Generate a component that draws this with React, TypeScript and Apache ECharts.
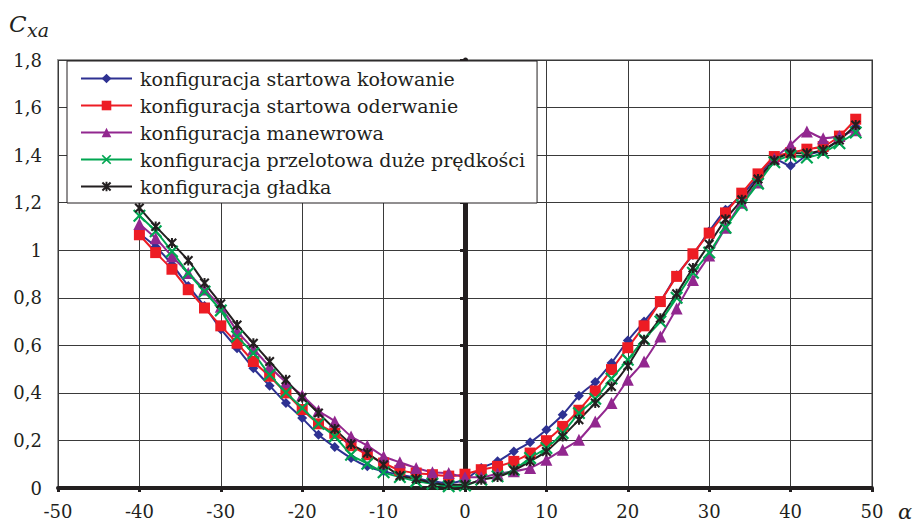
import React, { useEffect, useRef } from "react";
import * as echarts from "echarts";

const alpha = [-40, -38, -36, -34, -32, -30, -28, -26, -24, -22, -20, -18, -16, -14, -12, -10, -8, -6, -4, -2, 0, 2, 4, 6, 8, 10, 12, 14, 16, 18, 20, 22, 24, 26, 28, 30, 32, 34, 36, 38, 40, 42, 44, 46, 48];

const seriesNames = [
  "konfiguracja startowa kołowanie",
  "konfiguracja startowa oderwanie",
  "konfiguracja manewrowa",
  "konfiguracja przelotowa duże prędkości",
  "konfiguracja gładka",
];

const kolowanie = [1.07, 1.015, 0.94, 0.85, 0.765, 0.668, 0.588, 0.504, 0.43, 0.357, 0.294, 0.224, 0.172, 0.126, 0.091, 0.07, 0.056, 0.042, 0.028, 0.02, 0.035, 0.084, 0.112, 0.154, 0.192, 0.245, 0.308, 0.388, 0.446, 0.526, 0.62, 0.7, 0.784, 0.895, 0.98, 1.08, 1.17, 1.23, 1.31, 1.385, 1.355, 1.4, 1.42, 1.465, 1.52];
const oderwanie = [1.065, 0.99, 0.92, 0.834, 0.757, 0.682, 0.609, 0.532, 0.47, 0.4, 0.33, 0.27, 0.23, 0.178, 0.14, 0.105, 0.074, 0.063, 0.056, 0.05, 0.058, 0.077, 0.091, 0.112, 0.147, 0.199, 0.259, 0.327, 0.408, 0.498, 0.59, 0.682, 0.784, 0.89, 0.985, 1.072, 1.157, 1.24, 1.321, 1.394, 1.41, 1.425, 1.436, 1.48, 1.551];
const manewrowa = [1.11, 1.05, 0.975, 0.904, 0.835, 0.762, 0.66, 0.585, 0.51, 0.445, 0.39, 0.325, 0.28, 0.217, 0.178, 0.133, 0.108, 0.084, 0.066, 0.063, 0.045, 0.045, 0.06, 0.07, 0.084, 0.119, 0.161, 0.203, 0.28, 0.357, 0.455, 0.532, 0.637, 0.755, 0.875, 0.978, 1.095, 1.2, 1.285, 1.385, 1.443, 1.499, 1.471, 1.48, 1.505];
const przelotowa = [1.145, 1.08, 0.995, 0.904, 0.826, 0.747, 0.637, 0.567, 0.476, 0.402, 0.336, 0.27, 0.217, 0.14, 0.102, 0.066, 0.046, 0.028, 0.018, 0.007, 0.01, 0.035, 0.049, 0.077, 0.126, 0.168, 0.231, 0.315, 0.375, 0.46, 0.539, 0.626, 0.7, 0.8, 0.905, 0.99, 1.095, 1.19, 1.28, 1.37, 1.396, 1.39, 1.41, 1.45, 1.495];
const gladka = [1.178, 1.1, 1.03, 0.957, 0.862, 0.775, 0.686, 0.609, 0.532, 0.455, 0.381, 0.315, 0.248, 0.185, 0.147, 0.098, 0.052, 0.038, 0.021, 0.014, 0.014, 0.035, 0.046, 0.074, 0.112, 0.154, 0.217, 0.287, 0.357, 0.427, 0.514, 0.623, 0.714, 0.817, 0.925, 1.025, 1.13, 1.212, 1.3, 1.377, 1.408, 1.408, 1.422, 1.464, 1.527];

const FONT = "DejaVu Serif";
const INK = "#231F20";

const X_SYMBOL = "path://M0,1.2 L1.2,0 L5,3.8 L8.8,0 L10,1.2 L6.2,5 L10,8.8 L8.8,10 L5,6.2 L1.2,10 L0,8.8 L3.8,5 Z";
const STAR_SYMBOL = "path://M0,1.5 L1.5,0 L5,3.5 L8.5,0 L10,1.5 L6.5,5 L10,8.5 L8.5,10 L5,6.5 L1.5,10 L0,8.5 L3.5,5 Z M4,0 L6,0 L6,10 L4,10 Z";

export default function App() {
  const ref = useRef<HTMLDivElement>(null);
  useEffect(() => {
    if (!ref.current) return;
    const chart = echarts.init(ref.current, undefined, { renderer: "svg" });
    const mk = (name: string, vals: number[], color: string, symbol: string, size: number) => ({
      name,
      type: "line",
      data: alpha.map((a, i) => [a, vals[i]]),
      smooth: 0.2,
      symbol,
      symbolSize: size,
      lineStyle: { color, width: 2 },
      itemStyle: { color },
      emphasis: { disabled: true },
    });
    const fmtY = (v: number) => {
      const r = Math.round(v * 10) / 10;
      return String(r).replace(".", ",");
    };
    chart.setOption({
      animation: false,
      textStyle: { fontFamily: FONT },
      grid: {
        left: 58,
        right: 43,
        top: 60,
        bottom: 34,
        show: true,
        borderColor: "#9a9a9a",
        borderWidth: 2,
      },
      legend: {
        left: 67,
        top: 61,
        orient: "vertical",
        selectedMode: false,
        itemWidth: 51,
        itemHeight: 12,
        itemGap: 6,
        padding: [7, 12, 6, 13],
        backgroundColor: "#fff",
        borderColor: INK,
        borderWidth: 1,
        borderRadius: 0,
        textStyle: { fontFamily: FONT, fontSize: 19, color: INK, lineHeight: 21, padding: [0, 0, 0, 3] },
        data: seriesNames,
      },
      xAxis: {
        type: "value",
        min: -50,
        max: 50,
        interval: 10,
        axisLine: { show: true, onZero: false, lineStyle: { color: INK, width: 4 } },
        axisTick: { show: true, length: 4, lineStyle: { color: INK, width: 3 } },
        axisLabel: { fontFamily: FONT, fontSize: 18, color: INK, margin: 14 },
        splitLine: { show: true, lineStyle: { color: "#3a3a3a", width: 1 } },
      },
      yAxis: [
        {
          type: "value",
          min: 0,
          max: 1.8,
          interval: 0.2,
          axisLine: { show: false },
          axisTick: { show: false },
          axisLabel: { fontFamily: FONT, fontSize: 18, color: INK, margin: 16, formatter: fmtY },
          splitLine: { show: true, lineStyle: { color: "#3a3a3a", width: 1 } },
        },
        {
          type: "value",
          min: 0,
          max: 1.8,
          interval: 0.2,
          position: "left",
          offset: -407,
          axisLine: { show: true, lineStyle: { color: INK, width: 5 } },
          axisTick: { show: true, length: 5, lineStyle: { color: INK, width: 3 } },
          axisLabel: { show: false },
          splitLine: { show: false },
        },
      ],
      series: [
        mk(seriesNames[0], kolowanie, "#2E3192", "diamond", 10),
        mk(seriesNames[1], oderwanie, "#ED1C24", "rect", 11),
        mk(seriesNames[2], manewrowa, "#92278F", "triangle", 12),
        mk(seriesNames[3], przelotowa, "#00A651", X_SYMBOL, 13),
        mk(seriesNames[4], gladka, INK, STAR_SYMBOL, 10),
      ],
      graphic: [
        { type: "text", left: 9, top: 12, style: { text: "C", fontFamily: FONT, fontStyle: "italic", fontSize: 23, fill: INK } },
        { type: "text", left: 27, top: 20, style: { text: "xa", fontFamily: FONT, fontStyle: "italic", fontSize: 19, fill: INK } },
        { type: "text", left: 898, top: 501, style: { text: "α", fontFamily: FONT, fontStyle: "italic", fontSize: 21, fill: INK } },
      ],
    });
    return () => chart.dispose();
  }, []);
  return <div ref={ref} style={{ position: "absolute", left: 0, top: 0, width: 915, height: 522 }} />;
}
